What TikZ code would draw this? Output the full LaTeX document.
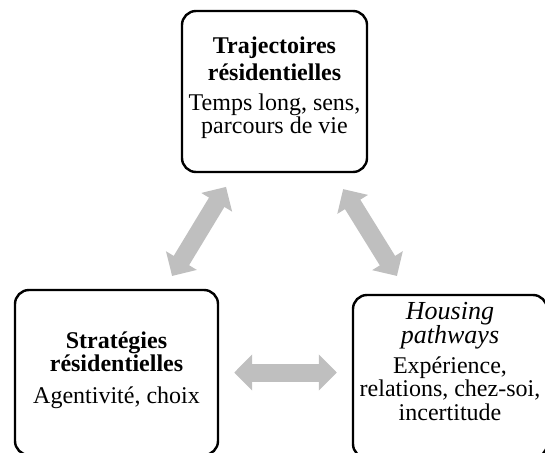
\documentclass[tikz,border=0pt]{standalone}
\usepackage{fontspec}
\setmainfont{Liberation Serif}
\usetikzlibrary{arrows.meta}
\definecolor{arrowgray}{HTML}{BFBFBF}

\begin{document}
\begin{tikzpicture}[x=1pt, y=-1pt, text=black,
    box/.style={draw, line width=2.4pt, rounded corners=14pt},
    blurb/.style={align=center, inner sep=0pt, anchor=base,
      font=\fontsize{24}{24}\selectfont},
    twoway/.style={draw=arrowgray, line width=18pt,
      {Triangle[length=18pt,width=35pt]}-{Triangle[length=18pt,width=35pt]}}]
\clip (0,0) rectangle (545,452);

% the three boxes
\node (traj) [box, minimum width=185pt, minimum height=161pt] at (274.5,91.5) {};
\path (traj)+(-158,281) node (strat) [box, minimum width=203pt,
    minimum height=165pt] {};
\path (traj)+(175.5,285) node (housing) [box, minimum width=194pt,
    minimum height=163pt] {};

% texts (anchored on their last line)
\node (trajtext) [blurb] at ([yshift=-124pt]traj.north)
    {\textbf{Trajectoires}\\[3pt]\textbf{résidentielles}\\[6pt]
     Temps long, sens,\\[-1pt]parcours de vie};
\node (strattext) [blurb] at ([yshift=-115pt]strat.north)
    {\textbf{Stratégies}\\[-1pt]\textbf{résidentielles}\\[8pt]
     Agentivité, choix};
\node (housingtext) [blurb] at ([yshift=-127pt]housing.north)
    {\textit{\fontsize{26}{26}\selectfont Housing}\\[0pt]
     \textit{\fontsize{26}{26}\selectfont pathways}\\[6pt]
     Expérience,\\[-1pt]relations, chez-soi,\\incertitude};

% two-way arrows
\draw[twoway, shorten <=15pt, shorten >=16pt]
    ([xshift=47.8pt]strat.north) -- ([xshift=-40.2pt]traj.south);
\draw[twoway, shorten <=18.7pt, shorten >=21pt]
    ([xshift=58.8pt]traj.south) -- ([xshift=-42pt]housing.north);
\draw[twoway, shorten <=15pt, shorten >=15pt]
    (strat.east) -- (strat.east -| housing.west);
\end{tikzpicture}
\end{document}
